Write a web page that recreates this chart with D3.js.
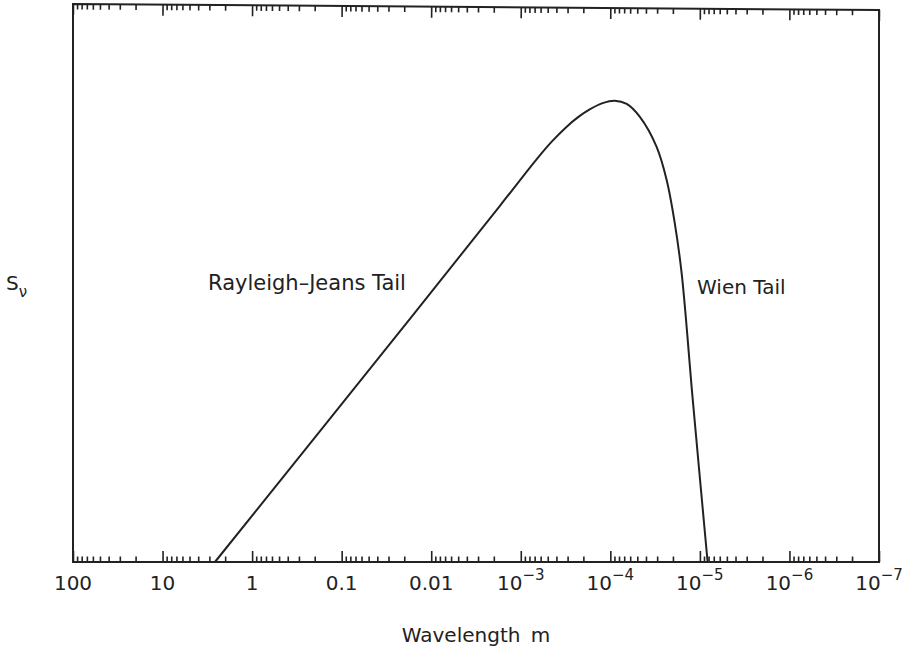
<!DOCTYPE html>
<html>
<head>
<meta charset="utf-8">
<script src="https://cdn.jsdelivr.net/npm/d3@7"></script>
<style>
  body { margin: 0; background: #fff; }
  svg { display: block; }
  text { font-family: "DejaVu Sans", sans-serif; fill: #222; }
</style>
</head>
<body>
<script>
"use strict";
// tick marks along wavelength axis (m), big to small, left to right
var majorTicks = [100, 10, 1, 0.1, 0.01, 1e-3, 1e-4, 1e-5, 1e-6, 1e-7];
var tickBase = ["100", "10", "1", "0.1", "0.01", "10", "10", "10", "10", "10"];
var tickExp = ["", "", "", "", "", "\u22123", "\u22124", "\u22125", "\u22126", "\u22127"];

// curve: wavelength (m) vs S_nu (arbitrary units, log)
var wavelength = [2.6, 0.016, 1.71e-3, 6.46e-4, 4.51e-4, 3.09e-4, 2.31e-4, 1.70e-4, 1.22e-4, 8.93e-5,
  6.56e-5, 4.70e-5, 3.05e-5, 2.35e-5, 1.91e-5, 1.60e-5, 1.20e-5, 8.2e-6];
var flux = [1, 2.75e4, 2.55e6, 1.86e7, 3.64e7, 6.69e7, 9.91e7, 1.38e8, 1.79e8, 1.98e8,
  1.73e8, 1.02e8, 2.95e7, 7.41e6, 1.26e6, 1.58e5, 813, 1];

var W = 909, H = 655;
var m = {left: 73, right: 879, top: 6, bottom: 562};
var ink = "#222";

var svg = d3.select("body").append("svg")
  .attr("width", W)
  .attr("height", H);

var x = d3.scaleLog().domain([100, 1e-7]).range([m.left, m.right]);
var y = d3.scaleLog().domain([1, 1e10]).range([m.bottom, m.top]);

var minorTicks = x.ticks().filter(function(v) {
  return majorTicks.every(function(t) { return Math.abs(Math.log10(v) - Math.log10(t)) > 1e-6; });
});

function styleAxis(g) {
  g.select(".domain").remove();
  g.selectAll("line").attr("stroke", ink).attr("stroke-width", 1.6);
  g.selectAll("text").remove();
}

// bottom axis: ticks point up into the box
svg.append("g")
  .attr("transform", "translate(0," + m.bottom + ")")
  .call(d3.axisBottom(x).tickValues(majorTicks).tickSize(-11).tickFormat(""))
  .call(styleAxis);
svg.append("g")
  .attr("transform", "translate(0," + m.bottom + ")")
  .call(d3.axisBottom(x).tickValues(minorTicks).tickSize(-5.5).tickFormat(""))
  .call(styleAxis);

// top axis, the scan is a little tilted there
var tilt = Math.atan2(6, m.right - m.left) * 180 / Math.PI;
var topG = svg.append("g")
  .attr("transform", "translate(0,4) rotate(" + tilt + " " + m.left + " 0)");
topG.append("g")
  .call(d3.axisTop(x).tickValues(majorTicks).tickSize(-11).tickFormat(""))
  .call(styleAxis);
topG.append("g")
  .call(d3.axisTop(x).tickValues(minorTicks).tickSize(-5.5).tickFormat(""))
  .call(styleAxis);

// frame
svg.append("path")
  .attr("d", "M" + m.left + ",4 L" + m.right + ",10 L" + m.right + "," + m.bottom +
    " L" + m.left + "," + m.bottom + " Z")
  .attr("fill", "none")
  .attr("stroke", ink)
  .attr("stroke-width", 2);

// tick labels
var tl = svg.append("g").selectAll("text")
  .data(majorTicks)
  .enter()
  .append("text")
  .attr("x", function(d) { return x(d); })
  .attr("y", 590)
  .attr("text-anchor", "middle")
  .style("font-size", "20px");
tl.append("tspan").text(function(d, i) { return tickBase[i]; });
tl.append("tspan")
  .attr("dy", -10)
  .style("font-size", "15px")
  .text(function(d, i) { return tickExp[i]; });

// the curve
var pts = wavelength.map(function(l, i) { return [l, flux[i]]; });
var line = d3.line()
  .x(function(d) { return x(d[0]); })
  .y(function(d) { return y(d[1]); })
  .curve(d3.curveCatmullRom.alpha(0.5));
svg.append("path")
  .datum(pts)
  .attr("d", line)
  .attr("fill", "none")
  .attr("stroke", ink)
  .attr("stroke-width", 2);

// annotations
svg.append("text")
  .attr("x", 208).attr("y", 290)
  .style("font-size", "21px")
  .text("Rayleigh\u2013Jeans Tail");
svg.append("text")
  .attr("x", 697).attr("y", 294)
  .style("font-size", "20px")
  .text("Wien Tail");

// axis titles
var yl = svg.append("text")
  .attr("x", 6).attr("y", 290)
  .style("font-size", "20px");
yl.append("tspan").text("S");
yl.append("tspan").attr("dy", 7).style("font-size", "15px").text("\u03bd");

svg.append("text")
  .attr("x", (m.left + m.right) / 2).attr("y", 642)
  .attr("text-anchor", "middle")
  .style("font-size", "20px")
  .style("word-spacing", "4px")
  .text("Wavelength m");
</script>
</body>
</html>
